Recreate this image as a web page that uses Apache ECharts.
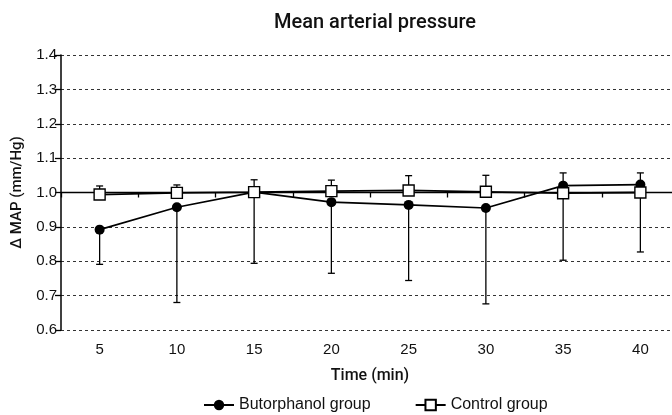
<!DOCTYPE html>
<html>
<head>
<meta charset="utf-8">
<script src="https://cdn.jsdelivr.net/npm/echarts@6/dist/echarts.min.js"></script>
<style>html,body{margin:0;padding:0;background:#fff}#c{width:672px;height:415px}</style>
</head>
<body>
<div id="c"></div>
<script>
// ---- data ----
var categories = ['5', '10', '15', '20', '25', '30', '35', '40'];
var butorphanolMean = [0.892, 0.957, 1.001, 0.972, 0.964, 0.955, 1.020, 1.023];
var butorphanolLower = [0.791, 0.680, 0.794, 0.765, 0.744, 0.676, 0.803, 0.827];
var controlMean = [0.994, 0.999, 1.001, 1.004, 1.006, 1.002, 0.998, 1.000];
var controlUpper = [1.019, 1.022, 1.037, 1.036, 1.049, 1.050, 1.057, 1.057];
var yTicks = [0.6, 0.7, 0.8, 0.9, 1.0, 1.1, 1.2, 1.3, 1.4];

var yMin = 0.6, yMax = 1.4, baseLine = 1.0;
var gridTop = 55, gridBottom = 85, H = 415;
var gridH = H - gridTop - gridBottom;
var baseOffset = -gridH * (baseLine - yMin) / (yMax - yMin);

var FONT = '"Liberation Sans", Arial, Helvetica, sans-serif';
var FONT_M = 'Roboto, "Liberation Sans", Arial, sans-serif';

function errBar() {
  return function (params, api) {
    var i = api.value(0);
    var p0 = api.coord([i, api.value(1)]);
    var p1 = api.coord([i, api.value(2)]);
    var hw = 3.5;
    var st = { stroke: '#000', lineWidth: 1.3 };
    return {
      type: 'group',
      children: [
        { type: 'line', shape: { x1: p0[0], y1: p0[1], x2: p1[0], y2: p1[1] }, style: st },
        { type: 'line', shape: { x1: p1[0] - hw, y1: p1[1], x2: p1[0] + hw, y2: p1[1] }, style: st }
      ]
    };
  };
}

var chart = echarts.init(document.getElementById('c'), null, { renderer: 'canvas' });
chart.setOption({
  animation: false,
  backgroundColor: '#fff',
  title: {
    text: 'Mean arterial pressure',
    left: 370, top: 8, textAlign: 'center',
    textStyle: { fontFamily: FONT_M, fontWeight: 500, fontSize: 20, color: '#111' }
  },
  legend: {
    data: ['Butorphanol group', 'Control group'],
    left: 198, top: 392,
    itemWidth: 30, itemHeight: 13, itemGap: 44,
    textStyle: { fontFamily: FONT, fontSize: 16, color: '#111' }
  },
  grid: { left: 61, right: -7, top: gridTop, bottom: gridBottom, outerBoundsMode: 'none', containLabel: false },
  xAxis: [
    {
      type: 'category', data: categories, position: 'bottom', offset: baseOffset,
      boundaryGap: true,
      axisLine: { onZero: false, lineStyle: { color: '#000', width: 1.3 } },
      axisTick: { show: true, length: 5, lineStyle: { color: '#000', width: 1.3 } },
      axisLabel: { show: false },
      splitLine: { show: false }
    },
    {
      type: 'category', data: categories, position: 'bottom',
      boundaryGap: true,
      axisLine: { show: false }, axisTick: { show: false },
      axisLabel: { margin: 12, fontFamily: FONT, fontSize: 15, color: '#111' },
      name: 'Time (min)', nameLocation: 'middle', nameGap: 38,
      nameTextStyle: { fontFamily: FONT_M, fontWeight: 500, fontSize: 16, color: '#111' }
    }
  ],
  yAxis: {
    type: 'value', min: yMin, max: yMax, interval: 0.1,
    name: 'Δ MAP (mm/Hg)', nameLocation: 'middle', nameGap: 36,
    nameTextStyle: { fontFamily: FONT_M, fontWeight: 500, fontSize: 15, color: '#111' },
    axisLine: { show: true, lineStyle: { color: '#000', width: 1.5 } },
    axisTick: { show: true, length: 6, lineStyle: { color: '#000', width: 1.3 } },
    axisLabel: {
      margin: 4, fontFamily: FONT, fontSize: 15, color: '#111',
      formatter: function (v) { return v.toFixed(1); }
    },
    splitLine: { show: true, lineStyle: { color: '#333', width: 1, type: [3, 3] } }
  },
  series: [
    {
      name: 'butErr', type: 'custom', xAxisIndex: 0, z: 1,
      renderItem: errBar(),
      data: categories.map(function (c, i) { return [i, butorphanolMean[i], butorphanolLower[i]]; }),
      encode: { x: 0, y: [1, 2] }
    },
    {
      name: 'ctlErr', type: 'custom', xAxisIndex: 0, z: 1,
      renderItem: errBar(),
      data: categories.map(function (c, i) { return [i, controlMean[i], controlUpper[i]]; }),
      encode: { x: 0, y: [1, 2] }
    },
    {
      name: 'Butorphanol group', type: 'line', xAxisIndex: 0, z: 3,
      data: butorphanolMean,
      symbol: 'circle', symbolSize: 10,
      itemStyle: { color: '#000' },
      lineStyle: { color: '#000', width: 1.6 }
    },
    {
      name: 'Control group', type: 'line', xAxisIndex: 0, z: 4,
      data: controlMean,
      symbol: 'rect', symbolSize: 11,
      itemStyle: { color: '#fff', borderColor: '#000', borderWidth: 1.4 },
      lineStyle: { color: '#000', width: 1.8 }
    }
  ]
});
</script>
</body>
</html>
